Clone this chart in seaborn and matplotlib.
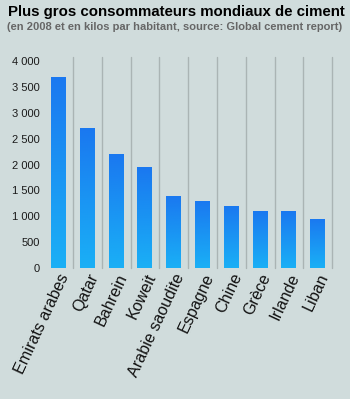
import numpy as np
import pandas as pd
import matplotlib
matplotlib.use("Agg")
import matplotlib.pyplot as plt
from matplotlib.colors import LinearSegmentedColormap
from matplotlib.ticker import FuncFormatter
import seaborn as sns

pays = ["Emirats arabes", "Qatar", "Bahrein", "Koweit", "Arabie saoudite",
        "Espagne", "Chine", "Grèce", "Irlande", "Liban"]
kilos = [3700, 2700, 2200, 1950, 1400, 1300, 1200, 1100, 1100, 950]
yticks = [0, 500, 1000, 1500, 2000, 2500, 3000, 3500, 4000]

df = pd.DataFrame({"pays": pays, "kilos": kilos})

sns.set_theme(style="white")
plt.rcParams["font.family"] = ["Liberation Sans", "DejaVu Sans"]

bg = "#d0dcdc"
fig = plt.figure(figsize=(3.5, 3.99), dpi=100, facecolor=bg)
ax = fig.add_axes([0.126, 0.328, 0.828, 0.519])
ax.set_facecolor(bg)

sns.barplot(data=df, x="pays", y="kilos", color="#1a80f0", width=0.52,
            ax=ax, zorder=3)

# vertical gradient fill for each bar
cmap = LinearSegmentedColormap.from_list("bleu", ["#1ab0f6", "#1a78f0"])
grad = np.linspace(0, 1, 256).reshape(-1, 1)
for p in ax.patches:
    x0, y0 = p.get_x(), p.get_y()
    w, h = p.get_width(), p.get_height()
    p.set_facecolor("none")
    p.set_edgecolor("none")
    im = ax.imshow(grad, cmap=cmap, origin="lower", aspect="auto",
                   extent=[x0, x0 + w, y0, y0 + h], zorder=3)
    im.set_clip_path(p)

ax.set_xlim(-0.5, len(pays) - 0.44)
ax.set_ylim(0, 4000)
ax.set_yticks(yticks)
ax.yaxis.set_major_formatter(FuncFormatter(lambda v, _: f"{int(v):,}".replace(",", " ")))

# separators between categories
for b in np.arange(0.5, len(pays), 1.0):
    ax.axvline(b, ymin=0, ymax=1.018, color="#aab4b4", lw=1.0, zorder=1,
               clip_on=False)

for s in ax.spines.values():
    s.set_visible(False)

ax.set_xlabel("")
ax.set_ylabel("")
ax.tick_params(axis="y", length=0, pad=3, labelsize=8, labelcolor="#1a1a1a")
ax.tick_params(axis="x", length=0, pad=2, labelsize=11.6, labelcolor="#111111")
plt.setp(ax.get_xticklabels(), rotation=65, ha="right", rotation_mode="anchor")

fig.text(0.505, 0.97, "Plus gros consommateurs mondiaux de ciment",
         ha="center", va="center", fontsize=10.8, fontweight="bold", color="#000000")
fig.text(0.5, 0.932, "(en 2008 et en kilos par habitant, source: Global cement report)",
         ha="center", va="center", fontsize=8, fontweight="bold", color="#666666")

fig.savefig("out.png", dpi=100, facecolor=bg)
